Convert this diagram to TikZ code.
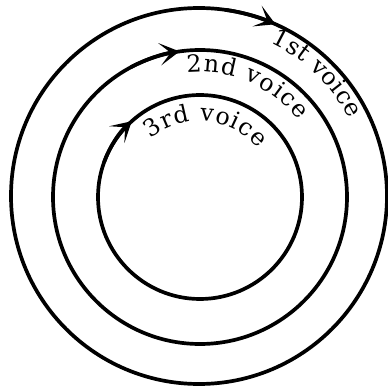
\documentclass[tikz,border=0pt]{standalone}
\usepackage{fontspec}
\usepackage{tikz}
\usetikzlibrary{arrows.meta, decorations.text}
\newfontfamily\voicefamily{DejaVu Serif}
\newcommand{\voicefont}{\voicefamily\fontsize{13.5}{16}\selectfont}

\begin{document}
\begin{tikzpicture}[line width=2.1pt, line cap=round]
    \useasboundingbox (0,0) rectangle (7.76,7.76);
    \coordinate (o) at (4.0,3.82);
    \coordinate (oo) at (3.98,3.84);

    % 1. Circles
    \draw (oo) circle (3.76);
    \draw (o) circle (2.94);
    \draw (o) circle (2.04);

    % 2. Direction tips (clockwise)
    \draw[-{Stealth[length=4mm, width=4.5mm, inset=2.2mm]}] (oo) ++(82:3.76) arc[start angle=82, end angle=66, radius=3.76];
    \draw[-{Stealth[length=4mm, width=4.5mm, inset=2.2mm]}] (o) ++(118:2.94) arc[start angle=118, end angle=98, radius=2.94];
    \draw[-{Stealth[length=4mm, width=4.5mm, inset=2.2mm]}] (o) ++(160:2.04) arc[start angle=160, end angle=132, radius=2.04];

    % 3. Labels along the circles
    \path[decorate, decoration={text along path, text align={fit to path},
        text={|\voicefont|1st voice}}]
        (oo) ++(65:3.38) arc[start angle=65, end angle=27, radius=3.38];
    \path[decorate, decoration={text along path, text align={fit to path},
        text={|\voicefont|2nd voice}}]
        (o) ++(96:2.5) arc[start angle=96, end angle=38, radius=2.5];
    \path[decorate, decoration={text along path, text align={fit to path},
        text={|\voicefont|3rd voice}}]
        (o) ++(130:1.52) arc[start angle=130, end angle=40, radius=1.52];
\end{tikzpicture}
\end{document}
